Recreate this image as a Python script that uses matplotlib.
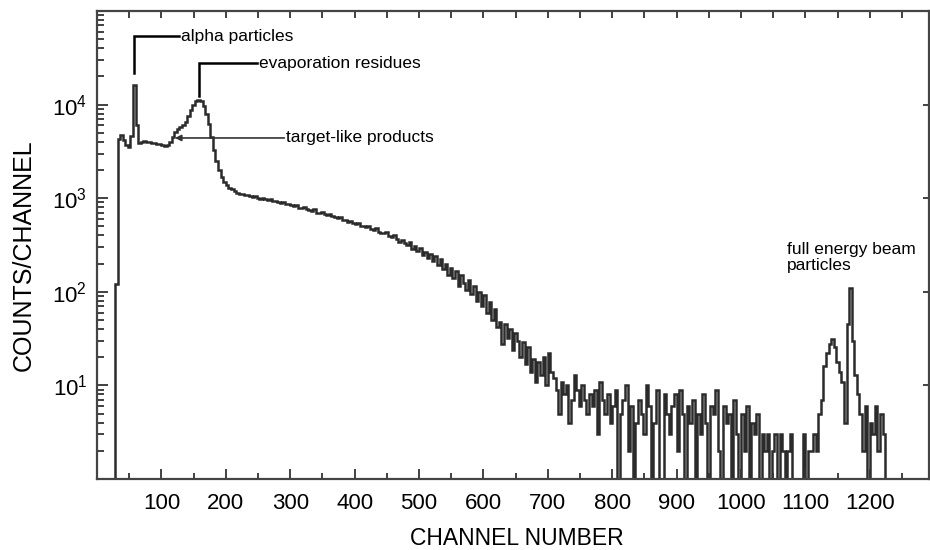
import numpy as np
import matplotlib
matplotlib.use("Agg")
import matplotlib.pyplot as plt
from matplotlib.ticker import FixedLocator, LogLocator, NullFormatter, LogFormatterSciNotation

plt.rcParams['font.family'] = ['Liberation Sans', 'DejaVu Sans']
plt.rcParams['mathtext.fontset'] = 'custom'
plt.rcParams['mathtext.rm'] = 'Liberation Sans'

# ---------------- data (counts per 4-channel bin) ----------------
first_channel = 24
channels_per_bin = 4

# channels 24 .. 223
counts_low = [
    0, 120, 4300, 4700, 4200, 3700, 3500, 4600, 16000, 6000,
    3900, 4000, 4050, 4000, 3950, 3900, 3850, 3800, 3750, 3700,
    3650, 3700, 4000, 4500, 5100, 5500, 5800, 6000, 6500, 7500,
    8700, 9800, 10800, 11200, 10800, 9600, 8000, 6200, 4500, 3300,
    2500, 2000, 1700, 1500, 1380, 1300, 1240, 1190, 1150, 1120,
]

# channels 224 .. 623
counts_mid = [
    1110, 1080, 1095, 1050, 1040, 1060, 1010, 990, 1000, 975,
    960, 985, 940, 930, 900, 880, 905, 860, 870, 840,
    820, 845, 790, 780, 800, 760, 750, 730, 760, 700,
    690, 705, 670, 660, 680, 640, 630, 610, 625, 590,
    580, 560, 575, 540, 530, 545, 510, 500, 490, 505,
    470, 460, 475, 440, 430, 420, 435, 395, 385, 400,
    365, 340, 360, 330, 315, 340, 290, 305, 270, 295,
    250, 265, 230, 255, 215, 240, 195, 225, 175, 200,
    150, 180, 140, 165, 115, 150, 125, 105, 135, 95,
    115, 80, 100, 70, 92, 60, 78, 50, 66, 42,
]

# channels 624 .. 1099
counts_tail = [
    48, 28, 45, 32, 40, 24, 36, 30, 20, 29, 17, 26, 14, 19, 11, 18, 13, 20, 10,
    22, 14, 12, 9, 5, 11, 8, 10, 4, 7, 13, 9, 6, 10, 7, 5, 8, 6, 9, 3, 11, 7, 5, 8, 4,
    6, 9, 0, 5, 7, 10, 2, 6, 0, 4, 7, 5, 3, 10, 6, 0, 4, 9, 1, 0, 8, 5, 3, 6, 8,
    2, 9, 5, 0, 6, 4, 7, 0, 5, 3, 8, 4, 0, 6, 5, 9, 2, 0, 6, 4, 5, 1, 7, 3, 0,
    5, 2, 6, 0, 4, 3, 5, 0, 3, 2, 3, 0, 2, 3, 1, 3, 2, 0, 2, 3, 0, 0, 0, 0, 3,
]

# channels 1100 .. 1227
counts_beam = [
    0, 2, 2, 3, 2, 5, 7, 16, 22, 28, 31, 26, 18, 14, 11, 4,
    45, 110, 30, 13, 8, 5, 2, 6, 1, 4, 3, 6, 2, 5, 3, 0,
]

x_ticks = [100, 200, 300, 400, 500, 600, 700, 800, 900, 1000, 1100, 1200]
y_ticks = [1e1, 1e2, 1e3, 1e4]

annotations = [
    # label, peak channel, leader bottom, leader top, leader end (channel)
    ("alpha particles", 57.5, 22000, 54000, 128),
    ("evaporation residues", 158, 12500, 27500, 249),
]
target_label = ("target-like products", 121, 4400, 291)
beam_label = ("full energy beam\nparticles", 1071, 232)

# ---------------- figure ----------------
counts = np.concatenate([counts_low, counts_mid, counts_tail, counts_beam]).astype(float)
edges = first_channel + channels_per_bin * np.arange(len(counts) + 1)

fig = plt.figure(figsize=(9.3, 5.5), dpi=100)
ax = fig.add_axes([97 / 930, 1 - 479 / 550, 832 / 930, 468 / 550])

ink = '#2b2b2b'
ax.stairs(counts, edges, baseline=None, color=ink, lw=1.8)

ax.set_yscale('log')
ax.set_xlim(0, 1292)
ax.set_ylim(1, 1e5)

ax.xaxis.set_major_locator(FixedLocator(x_ticks))
ax.xaxis.set_minor_locator(FixedLocator(np.arange(50, 1300, 100)))
ax.yaxis.set_major_locator(FixedLocator(y_ticks))
ax.yaxis.set_major_formatter(LogFormatterSciNotation())
ax.yaxis.set_minor_locator(LogLocator(base=10, subs=np.arange(2, 10)))
ax.yaxis.set_minor_formatter(NullFormatter())

ax.tick_params(axis='both', which='both', direction='in', color='#333333', width=1.3)
ax.tick_params(axis='x', which='major', length=7, pad=10, labelsize=16)
ax.tick_params(axis='x', which='minor', length=4.5)
ax.tick_params(axis='y', which='major', length=8, pad=7, labelsize=16)
ax.tick_params(axis='y', which='minor', length=5)

for s in ax.spines.values():
    s.set_color('#444444')
    s.set_linewidth(1.6)

# top ticks (every 50) and right ticks (decades only)
top = ax.secondary_xaxis('top')
top.set_xticks(np.arange(50, 1300, 50))
top.tick_params(direction='in', length=5, width=1.3, color='#333333', labeltop=False)
top.spines['top'].set_visible(False)
right = ax.secondary_yaxis('right')
right.set_yticks(y_ticks)
right.yaxis.set_minor_locator(FixedLocator([]))
right.tick_params(direction='in', length=4, width=1.3, color='#333333', labelright=False)
right.spines['right'].set_visible(False)

ax.set_xlabel('CHANNEL NUMBER', fontsize=16.5)
ax.set_ylabel('COUNTS/CHANNEL', fontsize=18)
ax.xaxis.set_label_coords(0.505, -0.102)
ax.yaxis.set_label_coords(-0.074, 0.478)

for label, xc, y0, y1, xend in annotations:
    ax.plot([xc, xc, xend], [y0, y1, y1], color='black', lw=1.8, solid_joinstyle='miter')
    ax.text(xend + 3, y1, label, fontsize=12.5, va='center', ha='left')

lab, x0, yv, x1 = target_label
ax.annotate('', xy=(x0, yv), xytext=(x1, yv),
            arrowprops=dict(arrowstyle='-|>', color='#333333', lw=1.2,
                            mutation_scale=9, shrinkA=0, shrinkB=0))
ax.text(x1 + 3, yv, lab, fontsize=12.5, va='center', ha='left')

lab, xb, yb = beam_label
ax.text(xb, yb, lab, fontsize=12.5, va='center', ha='left', linespacing=1.05)

fig.savefig('out.png', dpi=100)
